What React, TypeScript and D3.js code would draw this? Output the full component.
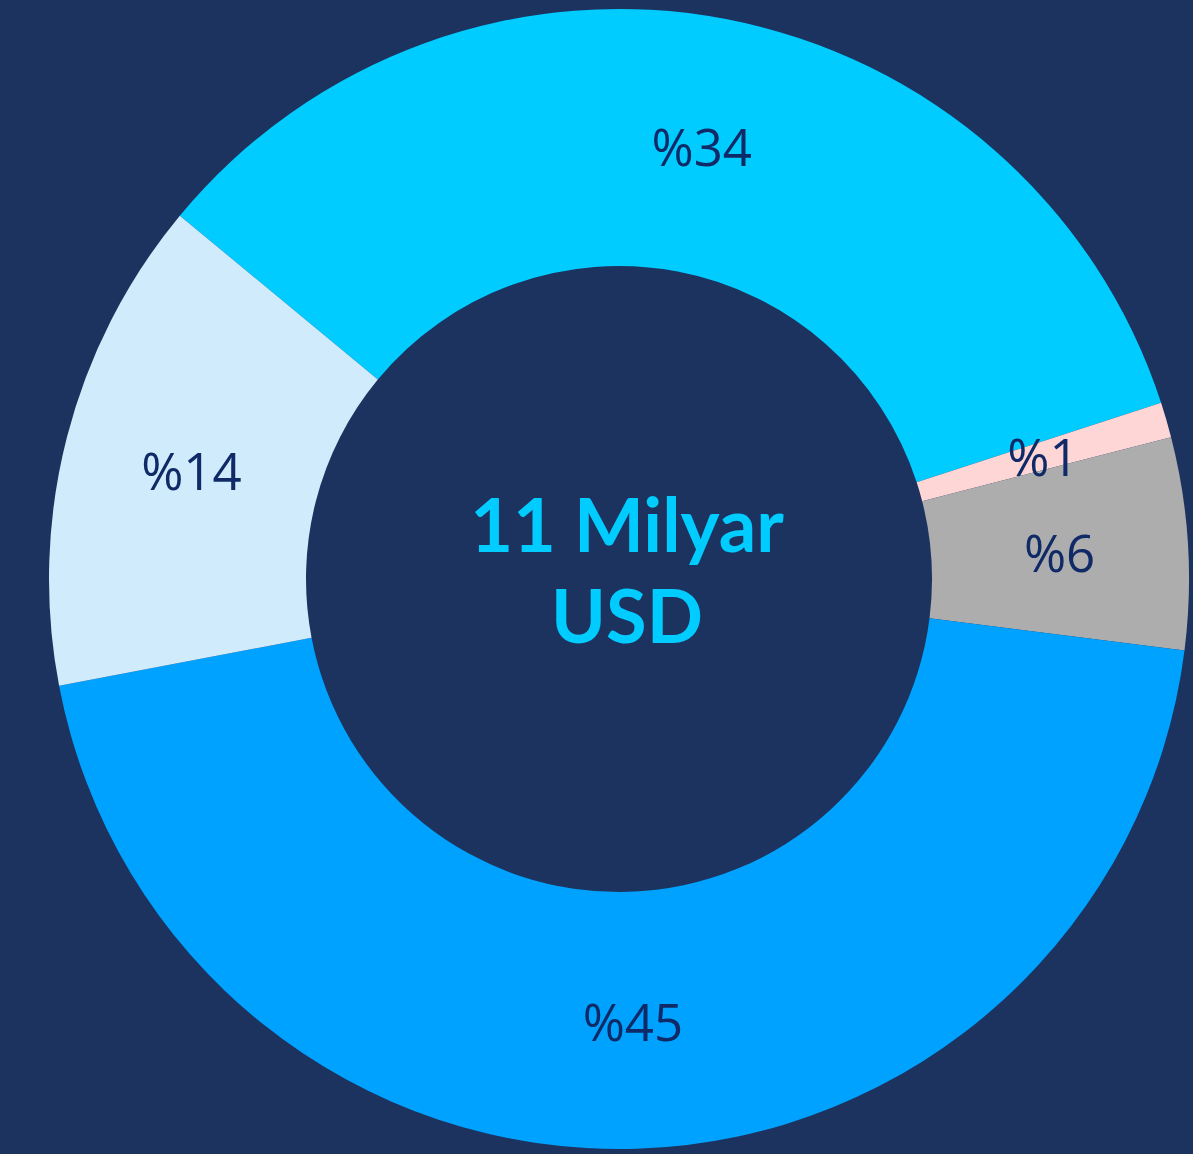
import React from "react";
import * as d3 from "d3";

const categories = ["A", "B", "C", "D", "E"];
const values = [34, 1, 6, 45, 14];
const labels = ["%34", "%1", "%6", "%45", "%14"];
const colors = ["#00ccff", "#ffd6d6", "#adadad", "#00a2ff", "#d0ecfc"];
const centerLines = ["11 Milyar", "USD"];

const W = 1193;
const H = 1154;
const BG = "#1c3360";

export default function App() {
  const cx = 619;
  const cy = 579;
  const R = 570;
  const r = 313;
  const start = (-50.4 * Math.PI) / 180;
  const pie = d3
    .pie<number>()
    .sort(null)
    .value((d) => d)
    .startAngle(start)
    .endAngle(start + 2 * Math.PI);
  const arcs = pie(values);
  const arc = d3.arc<d3.PieArcDatum<number>>().innerRadius(r).outerRadius(R);
  return (
    <svg
      width={W}
      height={H}
      style={{ position: "absolute", left: 0, top: 0, display: "block" }}
    >
      <rect x={0} y={0} width={W} height={H} fill={BG} />
      <g transform={`translate(${cx},${cy})`}>
        {arcs.map((a, i) => (
          <path key={categories[i]} d={arc(a) || ""} fill={colors[i]} />
        ))}
        {arcs.map((a, i) => {
          const [x, y] = arc.centroid(a);
          return (
            <text
              key={"l" + i}
              x={x}
              y={y + 2}
              textAnchor="middle"
              dy="0.36em"
              fill="#0f2a66"
              fontFamily="'Open Sans', sans-serif"
              fontSize={51}
            >
              {labels[i]}
            </text>
          );
        })}
        {centerLines.map((t, i) => (
          <text
            key={"c" + i}
            x={8}
            y={i === 0 ? -27 : 64}
            textAnchor="middle"
            fill="#00ccff"
            fontFamily="Lato, sans-serif"
            fontWeight={700}
            fontSize={74}
          >
            {t}
          </text>
        ))}
      </g>
    </svg>
  );
}
